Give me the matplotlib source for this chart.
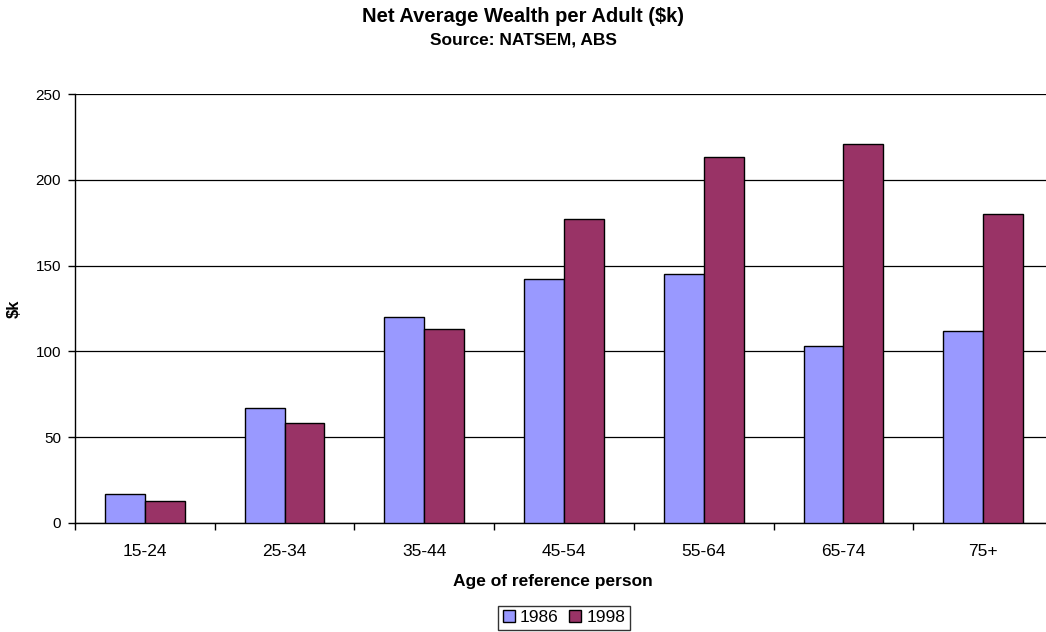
import matplotlib
matplotlib.use("Agg")
import matplotlib.pyplot as plt
import numpy as np

plt.rcParams['font.family'] = ['Liberation Sans', 'DejaVu Sans']

age_groups = ["15-24", "25-34", "35-44", "45-54", "55-64", "65-74", "75+"]
wealth_1986 = [17, 67, 120, 142, 145, 103, 112]
wealth_1998 = [13, 58, 113, 177, 213, 221, 180]
series_labels = ["1986", "1998"]
y_ticks = [0, 50, 100, 150, 200, 250]

W, H = 1046, 632
fig = plt.figure(figsize=(W / 100, H / 100), dpi=100)
ax = fig.add_axes([75 / W, 1 - 523 / H, 978 / W, 429 / H])

x = np.arange(len(age_groups))
bw = 1 / 3.5
ax.bar(x - bw / 2, wealth_1986, width=bw, color="#9999FF", edgecolor="black",
       linewidth=1.0, label=series_labels[0], zorder=3)
ax.bar(x + bw / 2, wealth_1998, width=bw, color="#993366", edgecolor="black",
       linewidth=1.0, label=series_labels[1], zorder=3)

ax.set_xlim(-0.5, len(age_groups) - 0.5)
ax.set_ylim(0, 250)
ax.set_yticks(y_ticks)
ax.set_yticklabels([str(v) for v in y_ticks], fontsize=11)
ax.set_xticks(x)
ax.set_xticklabels(age_groups, fontsize=12.5)
ax.set_xticks(np.arange(-0.5, len(age_groups), 1.0), minor=True)
ax.tick_params(axis="x", which="major", length=0, pad=15)
ax.tick_params(axis="x", which="minor", length=5, width=1, direction="out")
ax.tick_params(axis="y", length=5, width=1, direction="out", pad=5)

for v in y_ticks:
    ax.axhline(v, color="black", linewidth=0.9, zorder=1)

for s in ["top", "right"]:
    ax.spines[s].set_visible(False)
ax.spines["left"].set_linewidth(1.0)
ax.spines["bottom"].set_linewidth(1.0)

ax.set_xlabel("Age of reference person", fontsize=12.5, fontweight="bold")
ax.xaxis.set_label_coords(0.5 - 11 / 978, -51 / 429)
ax.set_ylabel("$k", fontsize=12, fontweight="bold")
ax.yaxis.set_label_coords(-53 / 978, 0.5)

fig.text(523 / W, 1 - 16 / H, "Net Average Wealth per Adult ($k)", ha="center",
         va="center", fontsize=14.5, fontweight="bold")
fig.text(523 / W, 1 - 40 / H, "Source: NATSEM, ABS", ha="center", va="center",
         fontsize=12.5, fontweight="bold")

leg = fig.legend(loc="upper center", bbox_to_anchor=(564 / W, 1 - 606 / H),
                 ncol=2, fontsize=12.5, frameon=True, fancybox=False,
                 handlelength=0.7, handleheight=0.7, handletextpad=0.3,
                 columnspacing=0.6, borderpad=0.25, borderaxespad=0)
leg.get_frame().set_edgecolor("black")
leg.get_frame().set_linewidth(1.0)

fig.savefig("out.png", dpi=100)
